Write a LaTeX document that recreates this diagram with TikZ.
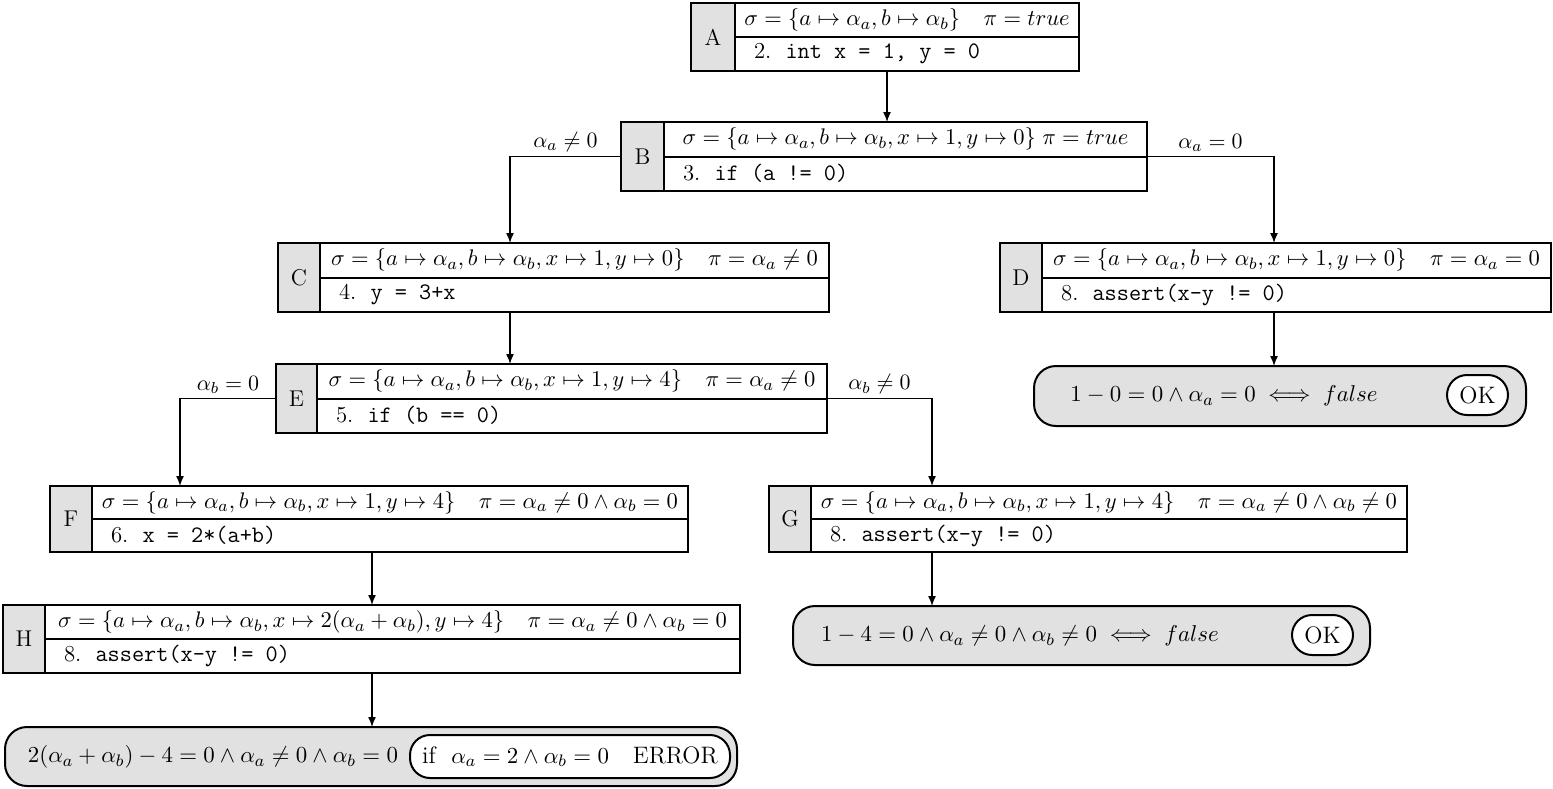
\documentclass[tikz,border=0pt]{standalone}
\usetikzlibrary{fit,calc,arrows.meta}
\definecolor{labfill}{RGB}{225,225,225}
\tikzset{
  blkframe/.style={draw, line width=1pt, inner sep=0pt, outer sep=0pt},
  blkline/.style={line width=1pt},
  resframe/.style={draw, line width=1pt, inner sep=0pt, outer sep=0pt, fill=labfill, rounded corners=11pt},
  okframe/.style={draw, line width=1pt, inner sep=0pt, outer sep=0pt, fill=white, rounded corners=10pt},
  arr/.style={line width=0.7pt, -{Latex[length=5pt,width=4pt]}},
  elabel/.style={inner sep=2pt, above},
  toptext/.style={scale=1.03, transform shape},
  restext/.style={scale=1.045, transform shape}
}
\newcommand\sblock[9]{%
  \coordinate (#1-nw) at (#2,#3);
  \coordinate (#1-se) at (#5,#6);
  \fill[labfill] (#2,#3) rectangle (#4,#6);
  \node[blkframe, fit=(#1-nw)(#1-se)] (#1) {};
  \draw[blkline] (#4,#3) -- (#4,#6);
  \draw[blkline] (#4,{(#3+#6)/2}) -- (#5,{(#3+#6)/2});
  \node (#1-lab) at ({(#2+#4)/2},{(#3+#6)/2}) {#7};
  \node[toptext] (#1-top) at ({(#4+#5)/2},{(3*#3+#6)/4}) {#8};
  \node[anchor=west] (#1-code) at ({#4+12},{(#3+3*#6)/4}) {#9};
}
\newcommand\cd[2]{#1.\hspace{0.62em}{\fontsize{11.8}{14}\selectfont\texttt{#2}}}
\begin{document}
\begin{tikzpicture}[x=0.5pt,y=-0.5pt,font=\fontsize{11.4}{13.7}\selectfont]
\useasboundingbox (0,0) rectangle (1553,788);

\sblock{A}{691}{3}{735}{1079}{71}{A}{$\sigma=\{a\mapsto\alpha_a,b\mapsto\alpha_b\}\quad\pi=true$}{\cd{2}{int x = 1, y = 0}}
\sblock{B}{621}{122}{664}{1147}{191}{B}{$\sigma=\{a\mapsto\alpha_a,b\mapsto\alpha_b,x\mapsto1,y\mapsto0\}\;\pi=true$}{\cd{3}{if (a != 0)}}
\sblock{C}{278}{243}{320}{829}{312}{C}{$\sigma=\{a\mapsto\alpha_a,b\mapsto\alpha_b,x\mapsto1,y\mapsto0\}\quad\pi=\alpha_a\neq0$}{\cd{4}{y = 3+x}}
\sblock{D}{1000}{243}{1042}{1551}{312}{D}{$\sigma=\{a\mapsto\alpha_a,b\mapsto\alpha_b,x\mapsto1,y\mapsto0\}\quad\pi=\alpha_a=0$}{\cd{8}{assert(x-y != 0)}}
\sblock{E}{276}{364}{317}{827}{433}{E}{$\sigma=\{a\mapsto\alpha_a,b\mapsto\alpha_b,x\mapsto1,y\mapsto4\}\quad\pi=\alpha_a\neq0$}{\cd{5}{if (b == 0)}}
\sblock{F}{50}{486}{92}{688}{552}{F}{$\sigma=\{a\mapsto\alpha_a,b\mapsto\alpha_b,x\mapsto1,y\mapsto4\}\quad\pi=\alpha_a\neq0\wedge\alpha_b=0$}{\cd{6}{x = 2*(a+b)}}
\sblock{G}{769}{486}{811}{1407}{552}{G}{$\sigma=\{a\mapsto\alpha_a,b\mapsto\alpha_b,x\mapsto1,y\mapsto4\}\quad\pi=\alpha_a\neq0\wedge\alpha_b\neq0$}{\cd{8}{assert(x-y != 0)}}
\sblock{H}{3}{605}{45}{740}{673}{H}{$\sigma=\{a\mapsto\alpha_a,b\mapsto\alpha_b,x\mapsto2(\alpha_a+\alpha_b),y\mapsto4\}\quad\pi=\alpha_a\neq0\wedge\alpha_b=0$}{\cd{8}{assert(x-y != 0)}}

% result boxes
\coordinate (RD-nw) at (1034,366); \coordinate (RD-se) at (1526,426);
\node[resframe, fit=(RD-nw)(RD-se)] (RD) {};
\node[restext] (RD-txt) at (1224,396) {$1-0=0\wedge\alpha_a=0\iff false$};
\coordinate (OD-nw) at (1447,375); \coordinate (OD-se) at (1508,415);
\node[okframe, fit=(OD-nw)(OD-se)] (OD) {};
\node[restext] (OD-txt) at (OD.center) {OK};

\coordinate (RG-nw) at (793,606); \coordinate (RG-se) at (1370,665);
\node[resframe, fit=(RG-nw)(RG-se)] (RG) {};
\node[restext] (RG-txt) at (1020,636) {$1-4=0\wedge\alpha_a\neq0\wedge\alpha_b\neq0\iff false$};
\coordinate (OG-nw) at (1292,615); \coordinate (OG-se) at (1353,655);
\node[okframe, fit=(OG-nw)(OG-se)] (OG) {};
\node[restext] (OG-txt) at (OG.center) {OK};

\coordinate (RH-nw) at (5,727); \coordinate (RH-se) at (737,786);
\node[resframe, fit=(RH-nw)(RH-se)] (RH) {};
\node[restext] (RH-txt) at (213,757) {$2(\alpha_a+\alpha_b)-4=0\wedge\alpha_a\neq0\wedge\alpha_b=0$};
\coordinate (OH-nw) at (410,735); \coordinate (OH-se) at (730,778);
\node[okframe, fit=(OH-nw)(OH-se)] (OH) {};
\node[restext] (OH-txt) at (OH.center) {if\ \ $\alpha_a=2\wedge\alpha_b=0$\quad ERROR};

% arrow columns
\coordinate (xAB) at (887,0);
\coordinate (xBC) at (510,0);
\coordinate (xBD) at (1274,0);
\coordinate (xEF) at (180,0);
\coordinate (xEG) at (932,0);
\coordinate (xFH) at (372,0);

% connectors
\draw[arr] (xAB |- A.south) -- (xAB |- B.north);
\draw[arr] (B.west) -- node[elabel] (lBC) {$\alpha_a\neq0$} (xBC |- B.west) -- (xBC |- C.north);
\draw[arr] (B.east) -- node[elabel] (lBD) {$\alpha_a=0$} (xBD |- B.east) -- (xBD |- D.north);
\draw[arr] (xBC |- C.south) -- (xBC |- E.north);
\draw[arr] (E.west) -- node[elabel] (lEF) {$\alpha_b=0$} (xEF |- E.west) -- (xEF |- F.north);
\draw[arr] (E.east) -- node[elabel] (lEG) {$\alpha_b\neq0$} (xEG |- E.east) -- (xEG |- G.north);
\draw[arr] (xBD |- D.south) -- (xBD |- RD.north);
\draw[arr] (xFH |- F.south) -- (xFH |- H.north);
\draw[arr] (xEG |- G.south) -- (xEG |- RG.north);
\draw[arr] (xFH |- H.south) -- (xFH |- RH.north);
\end{tikzpicture}
\end{document}
